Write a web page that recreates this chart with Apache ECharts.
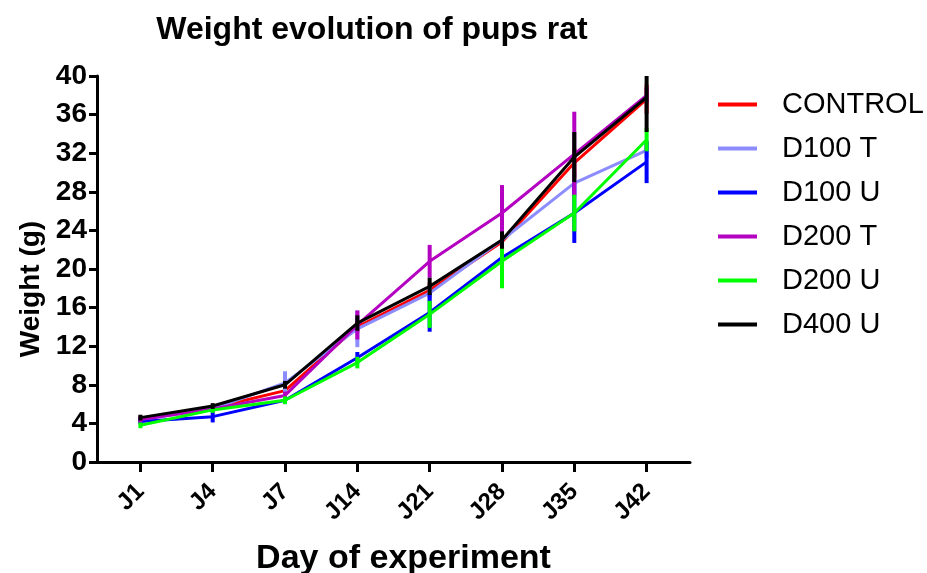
<!DOCTYPE html>
<html>
<head>
<meta charset="utf-8">
<title>Weight evolution of pups rat</title>
<script src="https://cdn.jsdelivr.net/npm/echarts@6/dist/echarts.min.js"></script>
<style>
  html, body { margin: 0; padding: 0; background: #fff; }
  #chart { width: 927px; height: 573px; }
</style>
</head>
<body>
<div id="chart"></div>
<script>
// days of the experiment
const days = ['J1', 'J4', 'J7', 'J14', 'J21', 'J28', 'J35', 'J42'];
const groups = ['CONTROL', 'D100 T', 'D100 U', 'D200 T', 'D200 U', 'D400 U'];

// mean weights (g)
const control = [4.5, 5.6, 7.4, 14.0, 17.8, 22.8, 31.0, 37.6];
const d100t   = [4.4, 5.5, 8.2, 13.8, 17.5, 23.0, 28.9, 32.3];
const d100u   = [4.2, 4.7, 6.4, 10.8, 15.5, 21.2, 25.8, 31.1];
const d200t   = [4.4, 5.5, 6.9, 14.2, 20.8, 25.8, 31.9, 38.0];
const d200u   = [3.8, 5.4, 6.4, 10.3, 15.3, 20.8, 25.8, 33.4];
const d400u   = [4.6, 5.8, 8.0, 14.4, 18.2, 23.0, 31.6, 37.8];

// error bars (+/-)
const controlErr = [0.3, 0.3, 0.4, 0.6, 0.8, 0.8, 1.5, 1.5];
const d100tErr   = [0.3, 0.3, 1.2, 1.9, 0.8, 0.8, 1.2, 0.8];
const d100uErr   = [0.3, 0.6, 0.4, 0.6, 2.0, 1.4, 3.1, 2.2];
const d200tErr   = [0.3, 0.3, 0.4, 1.5, 1.7, 2.9, 4.4, 0.8];
const d200uErr   = [0.3, 0.3, 0.4, 0.6, 1.4, 2.8, 1.9, 1.2];
const d400uErr   = [0.3, 0.3, 0.4, 0.8, 0.9, 0.9, 2.6, 3.6];

const yTicks = [0, 4, 8, 12, 16, 20, 24, 28, 32, 36, 40];

const means = [control, d100t, d100u, d200t, d200u, d400u];
const errs = [controlErr, d100tErr, d100uErr, d200tErr, d200uErr, d400uErr];
const colors = ['#ff0000', '#8c8cff', '#0000ff', '#b400c0', '#00ff00', '#000000'];

const font = '"Liberation Sans", Arial, sans-serif';
const chart = echarts.init(document.getElementById('chart'), null, { renderer: 'canvas' });

const series = [];
groups.forEach(function (name, g) {
  series.push({
    name: name,
    type: 'line',
    data: means[g].map(function (v, i) { return [i, v]; }),
    symbol: 'none',
    lineStyle: { color: colors[g], width: 3 },
    itemStyle: { color: colors[g] },
    z: 2 + g * 2
  });
  series.push({
    type: 'custom',
    clip: true,
    z: 3 + g * 2,
    data: means[g].map(function (v, i) { return [i, v - errs[g][i], v + errs[g][i]]; }),
    renderItem: function (params, api) {
      const lo = api.coord([api.value(0), api.value(1)]);
      const hi = api.coord([api.value(0), api.value(2)]);
      return {
        type: 'line',
        shape: { x1: lo[0], y1: lo[1], x2: hi[0], y2: hi[1] },
        style: { stroke: colors[g], lineWidth: 4 }
      };
    }
  });
});

chart.setOption({
  backgroundColor: '#fff',
  animation: false,
  title: {
    text: 'Weight evolution of pups rat',
    left: 367,
    top: 9,
    textAlign: 'center',
    textStyle: { fontFamily: font, fontWeight: 'bold', fontSize: 32, color: '#000' }
  },
  legend: {
    data: groups,
    orient: 'vertical',
    left: 713,
    top: 85,
    icon: 'rect',
    itemWidth: 39,
    itemHeight: 4,
    itemGap: 15,
    textStyle: { fontFamily: font, fontSize: 29, color: '#000', padding: [0, 0, 0, 20] }
  },
  grid: { left: 97, right: 237, top: 76, bottom: 111, outerBoundsMode: 'none', containLabel: false },
  xAxis: {
    type: 'value',
    min: -0.6,
    max: 7.6,
    name: 'Day of experiment',
    nameLocation: 'middle',
    nameGap: 80,
    nameTextStyle: { fontFamily: font, fontWeight: 'bold', fontSize: 34, color: '#000', padding: [0, 0, 0, 20] },
    splitLine: { show: false },
    axisLine: { show: true, onZero: false, lineStyle: { color: '#000', width: 3 } },
    axisTick: {
      show: true,
      length: 10,
      lineStyle: { color: '#000', width: 3 },
      customValues: days.map(function (d, i) { return i; })
    },
    axisLabel: {
      customValues: days.map(function (d, i) { return i; }),
      formatter: function (v) { return days[Math.round(v)]; },
      rotate: 45,
      margin: 26,
      fontFamily: font,
      fontWeight: 'bold',
      fontSize: 24,
      color: '#000',
      padding: [0, 0, 0, 6]
    }
  },
  yAxis: {
    type: 'value',
    min: 0,
    max: 40,
    interval: 4,
    name: 'Weight (g)',
    nameLocation: 'middle',
    nameGap: 52,
    nameTextStyle: { fontFamily: font, fontWeight: 'bold', fontSize: 28, color: '#000', padding: [0, 40, 0, 0] },
    splitLine: { show: false },
    axisLine: { show: true, onZero: false, lineStyle: { color: '#000', width: 3 } },
    axisTick: { show: true, length: 8, lineStyle: { color: '#000', width: 3 } },
    axisLabel: {
      margin: 10,
      fontFamily: font,
      fontWeight: 'bold',
      fontSize: 28,
      color: '#000',
      formatter: function (v) { return yTicks.indexOf(v) >= 0 ? String(v) : ''; }
    }
  },
  series: series
});
</script>
</body>
</html>
